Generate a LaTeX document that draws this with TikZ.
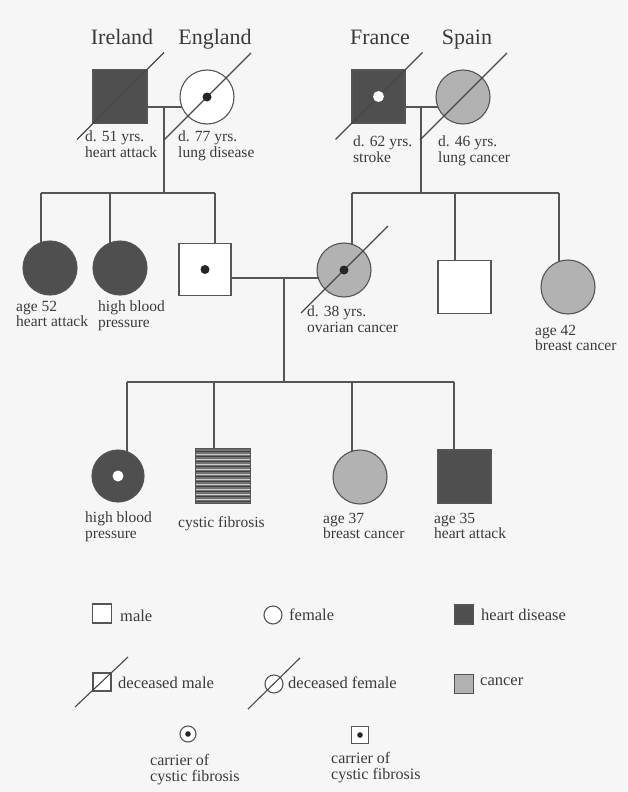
\documentclass[tikz,border=0pt]{standalone}
\usepackage{fontspec}
\setmainfont{Liberation Serif}
\usetikzlibrary{backgrounds,calc}
\definecolor{heart}{HTML}{4F4F4F}
\definecolor{cancer}{HTML}{B2B2B2}
\definecolor{linec}{HTML}{555555}
\definecolor{txt}{HTML}{3A3A3A}
\definecolor{bg}{HTML}{F6F6F6}
\newcommand\dcsd[1]{\draw[decl] ($(#1)+(-43,43)$) -- ($(#1)+(44,-44)$);}
\begin{document}
\begin{tikzpicture}[x=1pt,y=-1pt,
  person/.style={draw=linec, line width=1.1pt, inner sep=0pt, outer sep=0pt},
  male/.style={person, rectangle, minimum size=#1},
  male/.default=53,
  female/.style={person, circle, minimum size=#1},
  female/.default=54,
  hd/.style={fill=heart},
  ca/.style={fill=cancer},
  un/.style={fill=white},
  conn/.style={draw=linec, line width=1.2pt},
  decl/.style={draw=black!72, line width=1.1pt},
  head/.style={anchor=base, inner sep=0pt, text=txt, font=\fontsize{22}{22}\selectfont},
  lbl/.style={anchor=north west, inner sep=0pt, align=left, text=txt, font=\fontsize{15.5}{15.5}\selectfont},
  leg/.style={anchor=west, inner sep=0pt, align=left, text=txt, font=\fontsize{16.5}{16.5}\selectfont},
  legc/.style={anchor=north west, inner sep=0pt, align=left, text=txt, font=\fontsize{16}{16}\selectfont}]
\useasboundingbox (0,0) rectangle (627,792);

% headings
\node[head] (hIre) at (122,45) {Ireland};
\node[head] (hEng) at (215,45) {England};
\node[head] (hFra) at (380,45) {France};
\node[head] (hSpa) at (467,45) {Spain};

% generation 1
\node[male=54, hd] (irl) at (120,96.5) {};
\node[female, un] (eng) at (207,97) {};
\node[male, hd] (fra) at (378.5,96.5) {};
\node[female, ca] (spa) at (463,97) {};

% generation 2
\node[female, hd] (g2a) at (50,268) {};
\node[female, hd] (g2b) at (120,268) {};
\node[male=52, un] (g2c) at (205,269.5) {};
\node[female, ca] (g2d) at (344,270) {};
\node[male, un] (g2e) at (464.5,287) {};
\node[female, ca] (g2f) at (568,287) {};

% generation 3
\node[female=52, hd] (g3a) at (118,476) {};
\node[male=55, fill=heart!80] (g3b) at (223,476) {};
\node[female, ca] (g3c) at (360,477) {};
\node[male, hd] (g3d) at (464.5,476.5) {};

% stripes of the cystic fibrosis square
\begin{scope}
\clip (g3b.north west) rectangle (g3b.south east);
\foreach \k in {0,...,10}{
  \draw[black!75, line width=1.8pt] ($(g3b.north west)+(0,3+5*\k)$) -- +(60,0);
  \draw[white!80!black, line width=0.4pt] ($(g3b.north west)+(0,5.5+5*\k)$) -- +(60,0);
}
\end{scope}
\draw[linec, line width=1.1pt] (g3b.north west) rectangle (g3b.south east);

% deceased lines
\dcsd{irl}
\dcsd{eng}
\dcsd{fra}
\dcsd{spa}
\dcsd{g2d}

% markers
\fill[black!85] (eng) circle (4.5);
\fill[white] (fra) circle (5.5);
\fill[black!85] (g2c) circle (4.5);
\fill[black!85] (g2d) circle (4.5);
\fill[white] (g3a) circle (5.5);

% connectors
\coordinate (m1) at (164,107);
\coordinate (b1) at (164,193);
\coordinate (b1l) at (41,193);
\coordinate (b1m) at (110,193);
\coordinate (b1r) at (215,193);
\coordinate (m2) at (421,107);
\coordinate (b2) at (421,193);
\coordinate (b2l) at (352,193);
\coordinate (b2m) at (455,193);
\coordinate (b2r) at (559,193);
\coordinate (m3) at (284,278);
\coordinate (b3) at (284,382);
\coordinate (b3a) at (127,382);
\coordinate (b3b) at (214,382);
\coordinate (b3c) at (352,382);
\coordinate (b3d) at (454,382);
\begin{scope}[on background layer]
\fill[bg] (0,0) rectangle (627,792);
\draw[conn] (irl.center |- m1) -- (eng.center |- m1);
\draw[conn] (m1) -- (b1);
\draw[conn] (b1l) -- (b1r);
\draw[conn] (b1l) -- (b1l |- g2a.center);
\draw[conn] (b1m) -- (b1m |- g2b.center);
\draw[conn] (b1r) -- (b1r |- g2c.center);
\draw[conn] (fra.center |- m2) -- (spa.center |- m2);
\draw[conn] (m2) -- (b2);
\draw[conn] (b2l) -- (b2r);
\draw[conn] (b2l) -- (b2l |- g2d.center);
\draw[conn] (b2m) -- (b2m |- g2e.center);
\draw[conn] (b2r) -- (b2r |- g2f.center);
\draw[conn] (g2c.center |- m3) -- (g2d.center |- m3);
\draw[conn] (m3) -- (b3);
\draw[conn] (b3a) -- (b3d);
\draw[conn] (b3a) -- (b3a |- g3a.center);
\draw[conn] (b3b) -- (b3b |- g3b.center);
\draw[conn] (b3c) -- (b3c |- g3c.center);
\draw[conn] (b3d) -- (b3d |- g3d.center);
\end{scope}

% labels
\node[lbl] (l1) at (85,131) {d. 51 yrs.\\heart attack};
\node[lbl] (l2) at (178,131) {d. 77 yrs.\\lung disease};
\node[lbl] (l3) at (353,136) {d. 62 yrs.\\stroke};
\node[lbl] (l4) at (438,136) {d. 46 yrs.\\lung cancer};
\node[lbl] (l5) at (16,301) {age 52\\heart attack};
\node[lbl] (l6) at (98,301) {high blood\\pressure};
\node[lbl] (l7) at (307,306) {d. 38 yrs.\\ovarian cancer};
\node[lbl] (l8) at (535,325) {age 42\\breast cancer};
\node[lbl] (l9) at (85,512) {high blood\\pressure};
\node[lbl] (l10) at (178,516) {cystic fibrosis};
\node[lbl] (l11) at (323,513) {age 37\\breast cancer};
\node[lbl] (l12) at (434,513) {age 35\\heart attack};

% legend
\node[male=19, un] (kM) at (102,613.5) {};
\node[leg] (tM) at (120,616) {male};
\node[female=18, un] (kF) at (273,615) {};
\node[leg] (tF) at (289,615) {female};
\node[male=19, hd] (kH) at (464,614.5) {};
\node[leg] (tH) at (481,615) {heart disease};
\node[male=18, un] (kDM) at (102,682) {};
\draw[decl] ($(kDM)+(-27,25)$) -- ($(kDM)+(26,-25)$);
\node[leg] (tDM) at (118,683) {deceased male};
\node[female=18, un] (kDF) at (274,684) {};
\draw[decl] ($(kDF)+(-26,25)$) -- ($(kDF)+(26,-26)$);
\node[leg] (tDF) at (288,683) {deceased female};
\node[male=19, ca] (kC) at (464,684) {};
\node[leg] (tC) at (480,682) {cancer};
\node[female=16, un] (kCF) at (188,734) {};
\fill[black!85] (kCF) circle (2.8);
\node[legc] (tCF) at (150,754) {carrier of\\cystic fibrosis};
\node[male=17, un] (kCM) at (360,735) {};
\fill[black!85] (kCM) circle (2.8);
\node[legc] (tCM) at (331,752) {carrier of\\cystic fibrosis};
\end{tikzpicture}
\end{document}
